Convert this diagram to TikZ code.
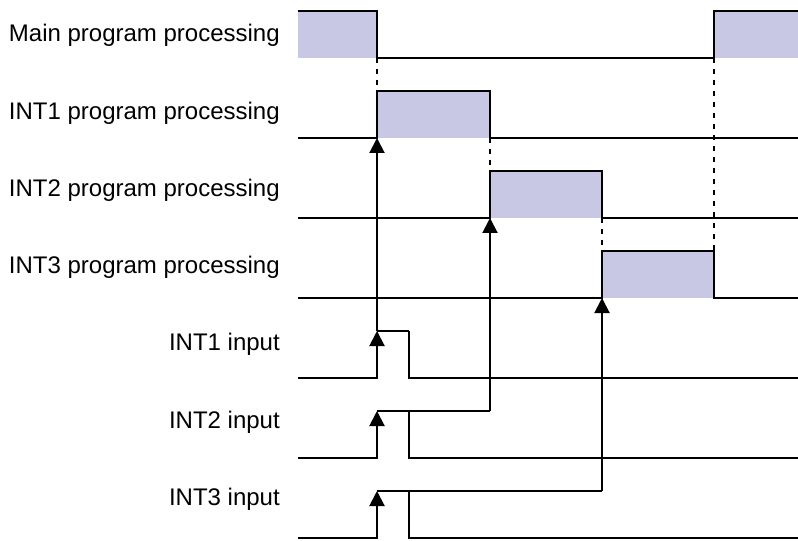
\documentclass[tikz,border=0pt]{standalone}
\usepackage{fontspec}
\setmainfont{Liberation Sans}
\usetikzlibrary{arrows.meta}
\definecolor{lilac}{RGB}{200,200,228}
\definecolor{ink}{RGB}{0,0,0}
\tikzset{
  >={Triangle[length=11.25pt,width=11.25pt]},
  wave/.style={draw=ink,line width=1.5pt},
  busy/.style={fill=lilac},
  sync/.style={draw=ink,line width=1.5pt,dash pattern=on 3.75pt off 4.5pt},
  trig/.style={->,draw=ink,line width=1.5pt},
  tag/.style={anchor=base east,inner sep=0pt,font=\fontsize{18}{20}\selectfont},
}
\begin{document}
\begin{tikzpicture}[x=0.75pt,y=-0.75pt]
  \useasboundingbox (0,0) rectangle (798,541);
  % row labels
  \foreach \t [count=\i from 0] in {Main program processing,INT1 program processing,
    INT2 program processing,INT3 program processing,INT1 input,INT2 input,INT3 input}
    \node[tag] (lbl\i) at (280,{42+77.2*\i}) {\t};
  % busy periods
  \fill[busy] (298,11) rectangle (377,58) (714,11) rectangle (798,58);
  \draw[wave] (298,11) -| (377,58) -| (714,11) -- (798,11);
  \foreach \i/\a/\b in {1/377/490,2/490/602,3/602/714}{
    \fill[busy] (\a,{58+80*\i-47}) rectangle (\b,{58+80*\i});
    \draw[wave] (298,{58+80*\i}) -| (\a,{58+80*\i-47}) -| (\b,{58+80*\i}) -- (798,{58+80*\i});
  }
  % hand-over between programs
  \draw[sync] (377,58) -- (377,91);
  \draw[sync] (490,138) -- (490,171);
  \draw[sync] (602,218) -- (602,251);
  \draw[sync] (714,58) -- (714,251);
  % interrupt inputs
  \foreach \i/\x in {1/377,2/490,3/602}{
    \coordinate (src\i) at (\x,{331+80*(\i-1)});
    \coordinate (dst\i) at (\x,{138+80*(\i-1)});
    \draw[trig] (298,{378+80*(\i-1)}) -| (377,{331+80*(\i-1)});
    \draw[wave] (377,{331+80*(\i-1)}) -- (src\i);
    \draw[wave] (409,{331+80*(\i-1)}) |- (798,{378+80*(\i-1)});
    \draw[trig] (src\i) -- (dst\i);
  }
  \draw[wave] (377,331) -- (409,331);
\end{tikzpicture}
\end{document}
